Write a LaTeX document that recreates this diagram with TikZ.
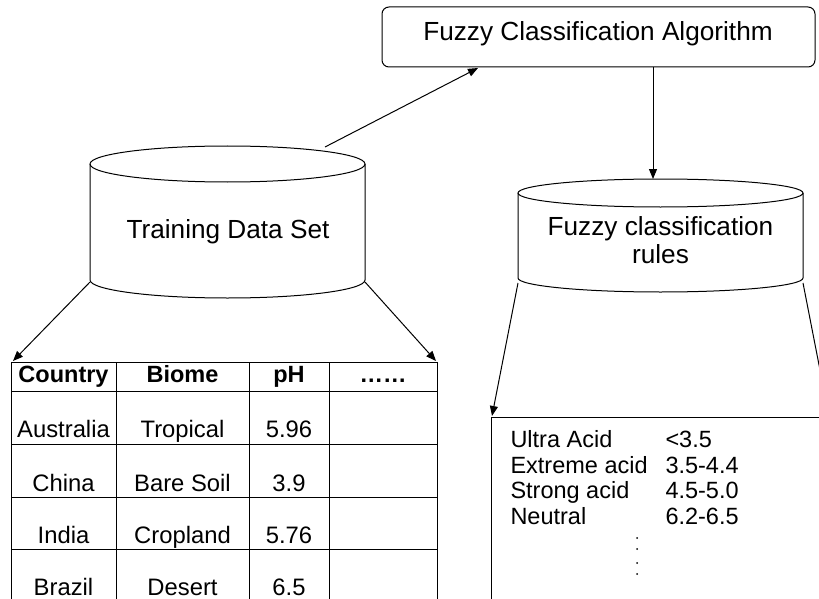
\documentclass[tikz,border=0pt]{standalone}
\usepackage{fontspec}
\setmainfont{Liberation Sans}
\usetikzlibrary{arrows.meta}
\begin{document}
\begin{tikzpicture}[x=1pt,y=-1pt,line width=1pt,
  arr/.style={-{Triangle[length=10pt,width=8pt]}},
  big/.style={font=\fontsize{26.2}{30}\selectfont,anchor=base,inner sep=0pt},
  cell/.style={font=\fontsize{23.8}{27}\selectfont,anchor=base,inner sep=0pt},
  hcell/.style={font=\fontsize{23.5}{27}\selectfont\bfseries,anchor=base,inner sep=0pt},
  rule/.style={font=\fontsize{23.5}{27}\selectfont,anchor=base west,inner sep=0pt},
  dot/.style={circle,fill=black,inner sep=0pt,minimum size=2pt}]
\useasboundingbox (0,0) rectangle (819,599);
\clip (0,0) rectangle (819,599);

% top box
\node[draw,rounded corners=7pt,minimum width=433pt,minimum height=60pt,inner sep=0pt] (algo) at (598.5,37) {};
\node[big] (algot) at (598,41) {Fuzzy Classification Algorithm};

% training cylinder
\draw (227.5,164) ellipse [x radius=137.5pt,y radius=18pt];
\draw (90,164) -- (90,280) arc[start angle=180,end angle=360,x radius=137.5pt,y radius=18pt] -- (365,164);
\node[big] (train) at (228,238) {Training Data Set};

% rules cylinder
\draw (660.5,193) ellipse [x radius=142.5pt,y radius=14pt];
\draw (518,193) -- (518,278) arc[start angle=180,end angle=360,x radius=142.5pt,y radius=14pt] -- (803,193);
\node[big] (rules1) at (660.5,235) {Fuzzy classification};
\node[big] (rules2) at (660.5,263) {rules};

% table
\node[draw,anchor=north west,minimum width=426pt,minimum height=300pt,inner sep=0pt] (tbl) at (11,362) {};
\draw (116,362) -- (116,700);
\draw (249,362) -- (249,700);
\draw (329,362) -- (329,700);
\draw (11,391) -- (437,391);
\draw (11,444) -- (437,444);
\draw (11,497) -- (437,497);
\draw (11,549) -- (437,549);

\node[hcell] (h1) at (63.5,382) {Country};
\node[hcell] (h2) at (182.5,382) {Biome};
\node[hcell] (h3) at (289,382) {pH};
\node[hcell] (h4) at (383,382) {……};

\node[cell] (a1) at (63.5,437) {Australia};
\node[cell] (a2) at (182.5,437) {Tropical};
\node[cell] (a3) at (289,437) {5.96};
\node[cell] (b1) at (63.5,491) {China};
\node[cell] (b2) at (182.5,491) {Bare Soil};
\node[cell] (b3) at (289,491) {3.9};
\node[cell] (c1) at (63.5,543) {India};
\node[cell] (c2) at (182.5,543) {Cropland};
\node[cell] (c3) at (289,543) {5.76};
\node[cell] (d1) at (63.5,595) {Brazil};
\node[cell] (d2) at (182.5,595) {Desert};
\node[cell] (d3) at (289,595) {6.5};

% rules box
\node[draw,anchor=north west,minimum width=400pt,minimum height=250pt,inner sep=0pt] (rbox) at (491,417) {};
\node[rule] (r1a) at (510,447) {Ultra Acid};
\node[rule] (r1b) at (665,447) {<3.5};
\node[rule] (r2a) at (510,473) {Extreme acid};
\node[rule] (r2b) at (665,473) {3.5-4.4};
\node[rule] (r3a) at (510,498) {Strong acid};
\node[rule] (r3b) at (665,498) {4.5-5.0};
\node[rule] (r4a) at (510,524) {Neutral};
\node[rule] (r4b) at (665,524) {6.2-6.5};
\node[dot] (p1) at (637,538) {};
\node[dot] (p2) at (637,549) {};
\node[dot] (p3) at (637,563) {};
\node[dot] (p4) at (637,574) {};

% connector endpoints
\coordinate (trTop) at (325,147);
\coordinate (algoIn) at (478,68);
\coordinate (algoOut) at (653,67);
\coordinate (rcTop) at (653,179);
\coordinate (trL) at (90,282);
\coordinate (tblL) at (13,361);
\coordinate (trR) at (365,282);
\coordinate (tblR) at (436,361);
\coordinate (rcL) at (518,283);
\coordinate (rboxL) at (492,416);
\coordinate (rcR) at (803,283);
\coordinate (rboxR) at (829,416);

\draw[arr] (trTop) -- (algoIn);
\draw[arr] (algoOut) -- (rcTop);
\draw[arr] (trL) -- (tblL);
\draw[arr] (trR) -- (tblR);
\draw[arr] (rcL) -- (rboxL);
\draw[arr] (rcR) -- (rboxR);
\end{tikzpicture}
\end{document}
